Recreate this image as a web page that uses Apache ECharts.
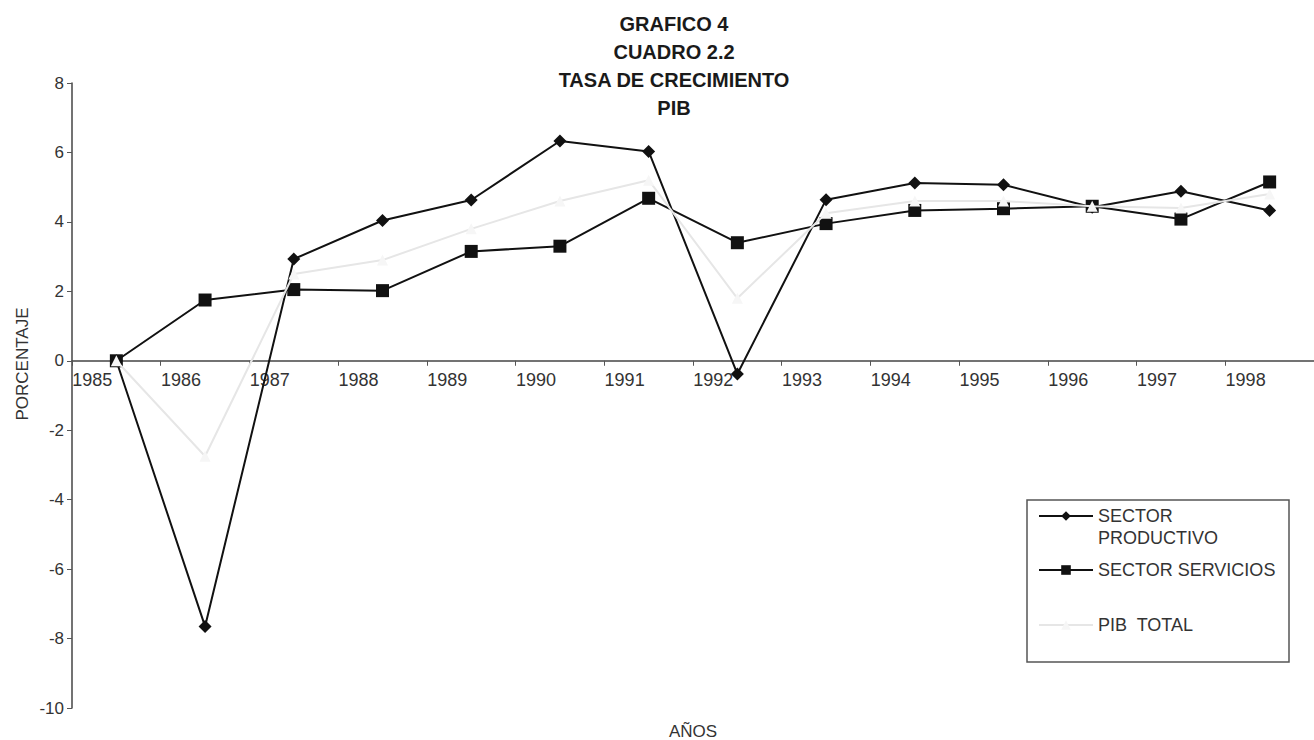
<!DOCTYPE html>
<html>
<head>
<meta charset="utf-8">
<title>Tasa de crecimiento PIB</title>
<script src="https://cdn.jsdelivr.net/npm/echarts@6/dist/echarts.min.js"></script>
<style>
  html, body { margin: 0; padding: 0; background: #ffffff; }
  #chart { width: 1314px; height: 740px; }
</style>
</head>
<body>
<div id="chart"></div>
<script>
// Años de la serie
const years = ['1985', '1986', '1987', '1988', '1989', '1990', '1991',
               '1992', '1993', '1994', '1995', '1996', '1997', '1998'];

// Tasas de crecimiento (%)
const sectorProductivo = [0, -7.65, 2.93, 4.04, 4.63, 6.33, 6.03, -0.38, 4.64, 5.12, 5.07, 4.42, 4.88, 4.33];
const sectorServicios  = [0, 1.75, 2.05, 2.02, 3.15, 3.3, 4.68, 3.4, 3.95, 4.33, 4.38, 4.45, 4.08, 5.15];
const pibTotal         = [0, -2.75, 2.5, 2.9, 3.8, 4.6, 5.2, 1.8, 4.25, 4.6, 4.6, 4.45, 4.4, 4.8];

// Marcas del eje vertical
const yMin = -10, yMax = 8, yStep = 2;

const titleLines = ['GRAFICO 4', 'CUADRO 2.2', 'TASA DE CRECIMIENTO', 'PIB'];

const FONT = '"Liberation Sans", Arial, sans-serif';
const INK = '#111111';

// Área de trazado
const GRID_TOP = 83, GRID_BOTTOM = 32, HEIGHT = 740;
const plotH = HEIGHT - GRID_TOP - GRID_BOTTOM;
// El eje de años se dibuja a la altura del valor 0
const zeroOffset = -plotH * (0 - yMin) / (yMax - yMin);

const chart = echarts.init(document.getElementById('chart'), null, { renderer: 'svg' });

const titleGraphics = titleLines.map((t, i) => ({
  type: 'text',
  x: 674,
  y: 24 + i * 28,
  style: {
    text: t,
    align: 'center',
    verticalAlign: 'middle',
    font: 'bold 20px ' + FONT,
    fill: '#1a1a1a'
  }
}));

const legendText = { fontSize: 18, color: '#333333', lineHeight: 22 };
const legendBase = {
  orient: 'vertical',
  left: 1038,
  padding: 0,
  itemWidth: 54,
  itemHeight: 12,
  z: 10,
  textStyle: legendText
};

chart.setOption({
  backgroundColor: '#ffffff',
  animation: false,
  textStyle: { fontFamily: FONT },
  grid: { left: 72, right: 0, top: GRID_TOP, bottom: GRID_BOTTOM, containLabel: false },
  graphic: [
    ...titleGraphics,
    {
      type: 'text',
      x: 22,
      y: 364,
      rotation: Math.PI / 2,
      style: {
        text: 'PORCENTAJE',
        align: 'center',
        verticalAlign: 'middle',
        font: '17px ' + FONT,
        fill: '#333333'
      }
    },
    {
      type: 'text',
      x: 693,
      y: 731,
      style: {
        text: 'AÑOS',
        align: 'center',
        verticalAlign: 'middle',
        font: '17px ' + FONT,
        fill: '#333333'
      }
    },
    {
      type: 'rect',
      z: 5,
      shape: { x: 1027, y: 500, width: 262, height: 162 },
      style: { fill: '#ffffff', stroke: '#555555', lineWidth: 1.5 }
    }
  ],
  legend: [
    Object.assign({}, legendBase, {
      top: 483,
      data: ['SECTOR PRODUCTIVO'],
      // línea vacía arriba para que el símbolo quede a la altura de "SECTOR"
      formatter: function () { return '\nSECTOR\nPRODUCTIVO'; }
    }),
    Object.assign({}, legendBase, {
      top: 559,
      data: ['SECTOR SERVICIOS']
    }),
    Object.assign({}, legendBase, {
      top: 614,
      data: ['PIB  TOTAL']
    })
  ],
  xAxis: {
    type: 'category',
    data: years,
    boundaryGap: true,
    position: 'bottom',
    offset: zeroOffset,
    axisLine: { onZero: false, lineStyle: { color: '#444444', width: 1.5 } },
    axisTick: { show: true, inside: false, length: 5, alignWithLabel: false, lineStyle: { color: '#555555' } },
    axisLabel: {
      align: 'right',
      margin: 10,
      padding: [0, 4, 0, 0],
      fontSize: 18,
      color: '#333333'
    },
    splitLine: { show: false }
  },
  yAxis: {
    type: 'value',
    min: yMin,
    max: yMax,
    interval: yStep,
    axisLine: { show: true, lineStyle: { color: '#444444', width: 1.5 } },
    axisTick: { show: true, length: 5, lineStyle: { color: '#555555' } },
    axisLabel: { margin: 8, fontSize: 17, color: '#333333' },
    splitLine: { show: false }
  },
  series: [
    {
      name: 'SECTOR PRODUCTIVO',
      type: 'line',
      data: sectorProductivo,
      symbol: 'diamond',
      symbolSize: 13,
      z: 3,
      lineStyle: { color: INK, width: 2 },
      itemStyle: { color: INK }
    },
    {
      name: 'SECTOR SERVICIOS',
      type: 'line',
      data: sectorServicios,
      symbol: 'rect',
      symbolSize: 13,
      z: 3,
      lineStyle: { color: INK, width: 2 },
      itemStyle: { color: INK }
    },
    {
      name: 'PIB  TOTAL',
      type: 'line',
      data: pibTotal,
      symbol: 'triangle',
      symbolSize: 11,
      z: 4,
      lineStyle: { color: '#e6e6e6', width: 2 },
      itemStyle: { color: '#f6f6f6' }
    }
  ]
});
</script>
</body>
</html>
